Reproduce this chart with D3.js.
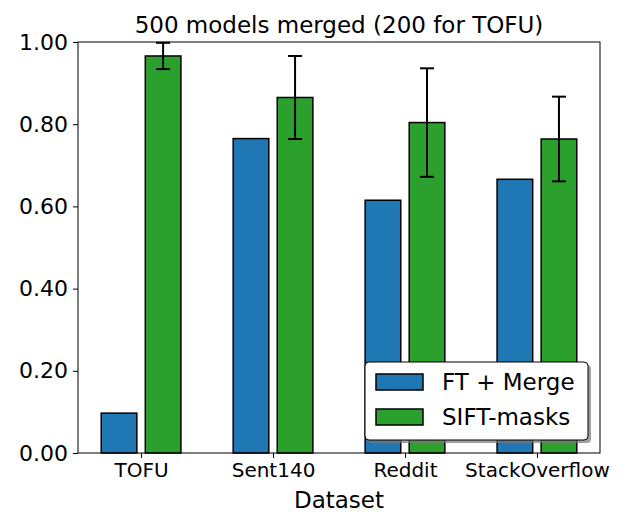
<!DOCTYPE html>
<html>
<head>
<meta charset="utf-8">
<script src="https://cdn.jsdelivr.net/npm/d3@7/dist/d3.min.js"></script>
<style>
  body { margin: 0; background: #fff; }
  svg { font-family: "DejaVu Sans", sans-serif; }
</style>
</head>
<body>
<svg id="chart" width="631" height="526"></svg>
<script>
// data
let categories = ['TOFU', 'Sent140', 'Reddit', 'StackOverflow'];
let ftMerge = [0.097, 0.765, 0.615, 0.666];
let siftMasks = [0.966, 0.865, 0.804, 0.764];
let siftErr = [0.032, 0.101, 0.132, 0.103];
let yTicks = [0, 0.2, 0.4, 0.6, 0.8, 1.0];
let seriesNames = ['FT + Merge', 'SIFT-masks'];
let seriesColors = ['#1f77b4', '#2ca02c'];

let margin = { left: 78, right: 31, top: 42, bottom: 73 };
let width = 631, height = 526;

let svg = d3.select('#chart');

let xScale = d3.scaleLinear()
	.domain([-0.478, 3.478])
	.range([margin.left, width - margin.right]);
let yScale = d3.scaleLinear()
	.domain([0, 1])
	.range([height - margin.bottom, margin.top]);

let barW = 0.27;
let offs = [-0.167, 0.167];

// bars
[ftMerge, siftMasks].forEach((vals, s) => {
	svg.append('g').selectAll('rect')
		.data(vals)
		.join('rect')
		.attr('x', (d, i) => xScale(i + offs[s] - barW / 2))
		.attr('width', xScale(barW) - xScale(0))
		.attr('y', d => yScale(d))
		.attr('height', d => yScale(0) - yScale(d))
		.attr('fill', seriesColors[s])
		.attr('stroke', '#000')
		.attr('stroke-width', 1.5);
});

// error bars
let eg = svg.append('g').attr('stroke', '#000').attr('stroke-width', 2);
siftMasks.forEach((v, i) => {
	let cx = xScale(i + offs[1]);
	let lo = yScale(Math.max(0, v - siftErr[i]));
	let hi = yScale(v + siftErr[i]);
	eg.append('line').attr('x1', cx).attr('x2', cx).attr('y1', lo).attr('y2', hi);
	eg.append('line').attr('x1', cx - 7).attr('x2', cx + 7).attr('y1', lo).attr('y2', lo);
	eg.append('line').attr('x1', cx - 7).attr('x2', cx + 7).attr('y1', hi).attr('y2', hi);
});

// axes
let yAxis = d3.axisLeft(yScale)
	.tickValues(yTicks)
	.tickFormat(d3.format('.2f'))
	.tickSize(5)
	.tickPadding(5);
let yg = svg.append('g')
	.attr('transform', `translate(${margin.left},0)`)
	.call(yAxis);
yg.select('.domain').remove();
yg.selectAll('text').attr('font-size', 22).attr('fill', '#000').attr('font-family', 'DejaVu Sans');

let xAxis = d3.axisBottom(xScale)
	.tickValues(d3.range(categories.length))
	.tickFormat(i => categories[i])
	.tickSize(5)
	.tickPadding(5);
let xg = svg.append('g')
	.attr('transform', `translate(0,${height - margin.bottom})`)
	.call(xAxis);
xg.select('.domain').remove();
xg.selectAll('text').attr('font-size', 20).attr('fill', '#000').attr('font-family', 'DejaVu Sans');

// frame
svg.append('rect')
	.attr('x', margin.left)
	.attr('y', margin.top)
	.attr('width', width - margin.left - margin.right)
	.attr('height', height - margin.top - margin.bottom)
	.attr('fill', 'none')
	.attr('stroke', '#000')
	.attr('stroke-width', 1);

// title and label
svg.append('text')
	.attr('x', (margin.left + width - margin.right) / 2)
	.attr('y', 33)
	.attr('text-anchor', 'middle')
	.attr('font-size', 23)
	.text('500 models merged (200 for TOFU)');
svg.append('text')
	.attr('x', (margin.left + width - margin.right) / 2)
	.attr('y', 508)
	.attr('text-anchor', 'middle')
	.attr('font-size', 23)
	.text('Dataset');

// legend
let lg = svg.append('g').attr('transform', 'translate(365,362)');
lg.append('rect')
	.attr('x', 3).attr('y', 3)
	.attr('width', 223).attr('height', 78)
	.attr('rx', 4)
	.attr('fill', '#777').attr('opacity', 0.7);
lg.append('rect')
	.attr('width', 223).attr('height', 78)
	.attr('rx', 4)
	.attr('fill', '#fff')
	.attr('stroke', '#000').attr('stroke-width', 1);
seriesNames.forEach((name, s) => {
	lg.append('rect')
		.attr('x', 11).attr('y', 12 + s * 35)
		.attr('width', 47).attr('height', 16)
		.attr('fill', seriesColors[s])
		.attr('stroke', '#000').attr('stroke-width', 1.5);
	lg.append('text')
		.attr('x', 77).attr('y', 28 + s * 35)
		.attr('font-size', 23)
		.text(name);
});
</script>
</body>
</html>
